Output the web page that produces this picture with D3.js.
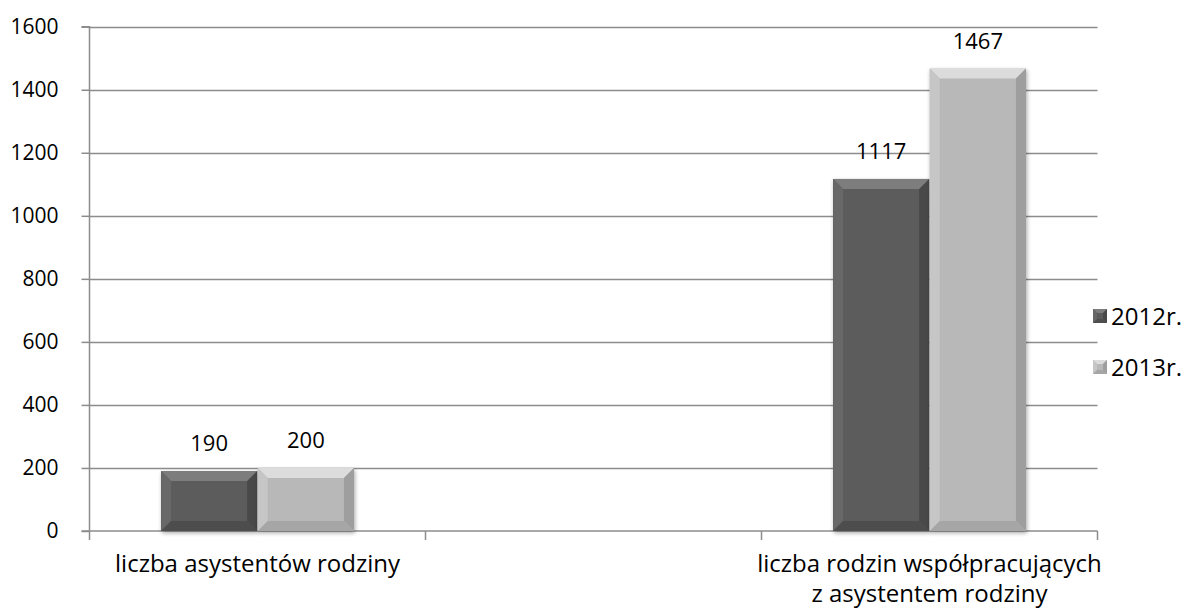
<!DOCTYPE html>
<html><head><meta charset="utf-8">
<script src="https://cdn.jsdelivr.net/npm/d3@7/dist/d3.min.js"></script>
<style>body{margin:0;background:#fff;}svg{display:block;font-family:"Open Sans", sans-serif;}</style>
</head><body><svg id="c" width="1186" height="608"></svg>
<script>
const categories = ["liczba asystentów rodziny", "", "liczba rodzin współpracujących|z asystentem rodziny"];
const series = ["2012r.", "2013r."];
const values2012 = [190, null, 1117];
const values2013 = [200, null, 1467];
const yTicks = [0, 200, 400, 600, 800, 1000, 1200, 1400, 1600];

const FONT = "'Open Sans', sans-serif";
const svg = d3.select("#c");
const L = 89.5, R = 1097.5, T = 26.7, B = 531;
const x = d3.scaleBand().domain(categories).range([L, R]).paddingInner(0).paddingOuter(0);
const xs = d3.scaleBand().domain(series).range([0, x.bandwidth()]).paddingInner(0.005).paddingOuter(0.74);
const y = d3.scaleLinear().domain([0, 1600]).range([B, T]);

const defs = svg.append("defs");
const f = defs.append("filter").attr("id","sh").attr("x","-10%").attr("y","-10%").attr("width","130%").attr("height","130%");
f.append("feGaussianBlur").attr("in","SourceAlpha").attr("stdDeviation",2);
f.append("feOffset").attr("dx",1).attr("dy",2).attr("result","b");
f.append("feComponentTransfer").append("feFuncA").attr("type","linear").attr("slope",0.35);
const m = f.append("feMerge"); m.append("feMergeNode"); m.append("feMergeNode").attr("in","SourceGraphic");

// gridlines
svg.append("g").selectAll("line").data(yTicks.filter(d=>d>0)).join("line")
  .attr("x1", L).attr("x2", R).attr("y1", d=>Math.round(y(d))+0.5).attr("y2", d=>Math.round(y(d))+0.5)
  .attr("stroke", "#8c8c8c").attr("stroke-width", 1.5);

// y axis
const ya = svg.append("g").attr("transform", `translate(${L},0)`)
  .call(d3.axisLeft(y).tickValues(yTicks).tickSize(8).tickPadding(23).tickFormat(d3.format("d")));
ya.select(".domain").attr("stroke","#8c8c8c").attr("stroke-width",1.5).attr("d", `M-8,${T}H0V${B}`);
ya.selectAll(".tick line").attr("stroke","#8c8c8c").attr("stroke-width",1.5).attr("x2",-8);
ya.selectAll(".tick text").attr("font-size", 21).attr("fill","#000").attr("font-family",FONT);

// x axis
const xa = svg.append("g").attr("transform", `translate(0,${B})`);
xa.append("line").attr("x1", L-8).attr("x2", R).attr("y1",0).attr("y2",0).attr("stroke","#8c8c8c").attr("stroke-width",1.5);
const edges = categories.map(c=>x(c)).concat([R]);
xa.selectAll(".tk").data(edges).join("line").attr("class","tk")
  .attr("x1",d=>d).attr("x2",d=>d).attr("y1",0).attr("y2",9).attr("stroke","#8c8c8c").attr("stroke-width",1.5);
xa.selectAll(".lbl").data(categories).join("g").attr("class","lbl")
  .each(function(d){
    const parts = d.split("|");
    d3.select(this).selectAll("text").data(parts).join("text")
      .attr("x", x(d)+x.bandwidth()/2).attr("y", (p,i)=> 41 + i*30)
      .attr("text-anchor","middle").attr("font-size",24).attr("fill","#000").attr("font-family",FONT)
      .text(p=>p);
  });

// bars
const colors = {
  "2012r.": {base:"#5b5b5b", top:"#7d7d7d", left:"#676767", right:"#484848", bottom:"#4e4e4e"},
  "2013r.": {base:"#b8b8b8", top:"#dcdcdc", left:"#c6c6c6", right:"#9e9e9e", bottom:"#a6a6a6"}
};
const data = [];
categories.forEach((c,i)=>{
  [[series[0], values2012[i]],[series[1], values2013[i]]].forEach(([s,v])=>{
    if (v!=null) data.push({c,s,v});
  });
});
const bars = svg.append("g").selectAll("g").data(data).join("g").attr("filter","url(#sh)");
bars.each(function(d){
  const g = d3.select(this);
  const bx = x(d.c)+xs(d.s), bw = xs.bandwidth(), by = y(d.v), bh = B - y(d.v);
  const b = Math.min(10, bh/2);
  const col = colors[d.s];
  g.append("rect").attr("x",bx).attr("y",by).attr("width",bw).attr("height",bh).attr("fill",col.base);
  const poly = (pts, fill) => g.append("polygon").attr("points", pts.map(p=>p.join(",")).join(" ")).attr("fill", fill);
  poly([[bx,by],[bx+bw,by],[bx+bw-b,by+b],[bx+b,by+b]], col.top);
  poly([[bx,by],[bx+b,by+b],[bx+b,by+bh-b],[bx,by+bh]], col.left);
  poly([[bx+bw,by],[bx+bw-b,by+b],[bx+bw-b,by+bh-b],[bx+bw,by+bh]], col.right);
  poly([[bx,by+bh],[bx+b,by+bh-b],[bx+bw-b,by+bh-b],[bx+bw,by+bh]], col.bottom);
});
// value labels
svg.append("g").selectAll("text").data(data).join("text")
  .attr("x", d=>x(d.c)+xs(d.s)+xs.bandwidth()/2).attr("y", d=>y(d.v)-20)
  .attr("text-anchor","middle").attr("font-size",22).attr("fill","#000").attr("font-family",FONT).text(d=>d.v);

// legend
const lg = svg.append("g").selectAll("g").data(series).join("g")
  .attr("transform",(d,i)=>`translate(1093,${309 + i*51})`);
lg.each(function(d){
  const g = d3.select(this), col = colors[d], s = 14, b = 4;
  g.append("rect").attr("width",s).attr("height",s).attr("fill",col.base);
  g.append("polygon").attr("points",`0,0 ${s},0 ${s-b},${b} ${b},${b}`).attr("fill",col.top);
  g.append("polygon").attr("points",`0,0 ${b},${b} ${b},${s-b} 0,${s}`).attr("fill",col.left);
  g.append("polygon").attr("points",`${s},0 ${s-b},${b} ${s-b},${s-b} ${s},${s}`).attr("fill",col.right);
  g.append("polygon").attr("points",`0,${s} ${b},${s-b} ${s-b},${s-b} ${s},${s}`).attr("fill",col.bottom);
  g.append("text").attr("x",18).attr("y",s/2).attr("dy","0.36em").attr("font-size",24).attr("fill","#000").attr("font-family",FONT).text(d);
});
</script></body></html>
